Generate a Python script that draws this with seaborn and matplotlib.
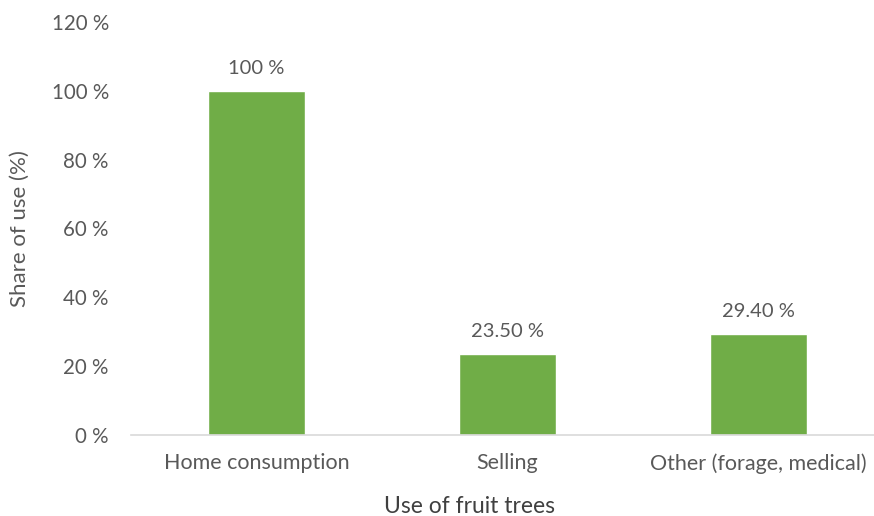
import matplotlib
matplotlib.use("Agg")
import matplotlib.pyplot as plt
import matplotlib.ticker as mticker
import seaborn as sns
import pandas as pd

uses = ["Home consumption", "Selling", "Other (forage, medical)"]
shares = [100, 23.5, 29.4]
share_labels = ["100 %", "23.50 %", "29.40 %"]
y_ticks = [0, 20, 40, 60, 80, 100, 120]

sns.set_style("white")
plt.rcParams['font.family'] = ['Lato', 'DejaVu Sans']

df = pd.DataFrame({"use": uses, "share": shares})

fig = plt.figure(figsize=(8.74, 5.16), dpi=100)
ax = fig.add_axes([131 / 874, 81 / 516, 753 / 874, 413 / 516])

sns.barplot(data=df, x="use", y="share", color="#70AD47", saturation=1,
            width=0.386, ax=ax)

ax.set_xlim(-0.5, 2.5)
ax.set_ylim(0, 120)
ax.set_yticks(y_ticks)
ax.yaxis.set_major_formatter(mticker.FuncFormatter(lambda v, p: f"{v:.0f} %"))

for s in ["top", "right", "left"]:
    ax.spines[s].set_visible(False)
ax.spines["bottom"].set_color("#D9D9D9")
ax.spines["bottom"].set_linewidth(1.2)

ax.tick_params(axis="y", length=0, pad=16, labelsize=14.8, labelcolor="#595959")
ax.tick_params(axis="x", which="major", length=0, pad=13, labelsize=15.5,
               labelcolor="#595959")
ax.set_xticks([-0.5, 0.5, 1.5, 2.5], minor=True)
ax.tick_params(axis="x", which="minor", length=5, color="#D9D9D9", width=1.2)

ax.bar_label(ax.containers[0], labels=share_labels, padding=10,
             fontsize=14.5, color="#595959")

ax.set_ylabel("Share of use (%)", fontsize=16, color="#595959")
ax.set_xlabel("Use of fruit trees", fontsize=16.5, color="#404040")
ax.xaxis.set_label_coords(0.449, -0.148)
ax.yaxis.set_label_coords(-0.134, 0.5)
ax.grid(False)

fig.savefig("out.png", dpi=100)
